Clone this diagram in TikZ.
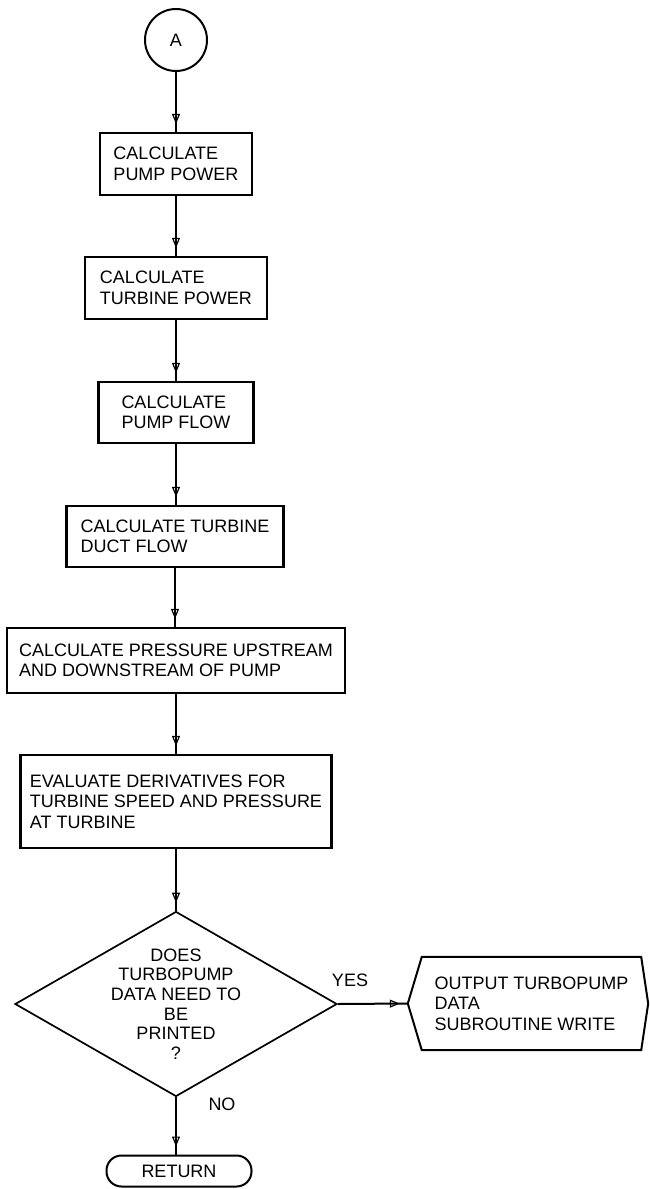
\documentclass[tikz,border=0pt]{standalone}
\usepackage{fontspec}
\setmainfont{Liberation Sans}
\usepackage{tikz}
\usetikzlibrary{shapes.geometric,arrows.meta,decorations.markings}

\begin{document}
\begin{tikzpicture}[x=1pt,y=-1pt,
    every node/.style={font=\fontsize{18}{20.5}\selectfont},
    procbox/.style={draw,line width=2.1pt,align=left,inner sep=0pt},
    decision/.style={draw,diamond,aspect=1.74,line width=1.7pt,
      minimum width=322pt,minimum height=185pt,inner sep=0pt},
    flow/.style={line width=2pt,postaction={decorate},
      decoration={markings,mark=at position -8pt with
        {\arrow[line width=1.2pt]{Triangle[open,length=10pt,width=8pt]}}}}]
      \useasboundingbox (0,0) rectangle (649,1189);
      \node[draw,circle,line width=2pt,minimum size=62pt,inner sep=0pt]
        (a) at (176,40) {A};
      \node[procbox,minimum width=152pt,minimum height=62pt]
        (pp) at (176,164) {CALCULATE\\PUMP POWER};
      \node[procbox,minimum width=182pt,minimum height=62pt]
        (tp) at (176,288) {CALCULATE\\TURBINE POWER};
      \node[procbox,minimum width=155pt,minimum height=61pt]
        (pf) at (176,412.5) {CALCULATE\\PUMP FLOW};
      \node[procbox,minimum width=217pt,minimum height=61pt]
        (df) at (175,536.5) {CALCULATE TURBINE\\DUCT FLOW};
      \node[procbox,minimum width=338pt,minimum height=65pt]
        (pr) at (176,660.5) {CALCULATE PRESSURE UPSTREAM\\AND DOWNSTREAM OF PUMP};
      \node[procbox,minimum width=311pt,minimum height=93pt]
        (ev) at (176,801.5) {EVALUATE DERIVATIVES FOR\\TURBINE SPEED AND PRESSURE\\AT TURBINE};
      \node[decision] (dec) at (176,1004) {};
      \node[align=center,font=\fontsize{18}{19.6}\selectfont]
        (dectext) at (dec) {DOES\\TURBOPUMP\\DATA NEED TO\\BE\\PRINTED\\?};
      \node[minimum width=219pt,minimum height=93pt,inner sep=0pt,align=left]
        (out) at (531.5,1003.5) {OUTPUT TURBOPUMP\\DATA\\SUBROUTINE WRITE};
      \coordinate (outtip) at ([xshift=-14pt]out.west);
      \draw[line width=2pt]
        (out.north west) -- (out.north east)
        -- ([xshift=7pt]out.east)
        -- (out.south east) -- (out.south west)
        -- (outtip) -- cycle;
      \node[draw,rounded corners=15pt,line width=2pt,minimum width=145pt,
        minimum height=31pt,inner sep=0pt] (ret) at (179,1171) {RETURN};
      \node (yes) at (350,980) {YES};
      \node (no) at (222,1104) {NO};
      % connectors
      \draw[flow] (a) -- (pp);
      \draw[flow] (pp) -- (tp);
      \draw[flow] (tp) -- (pf);
      \draw[flow] (pf.south) -- (pf.south |- df.north);
      \draw[flow] (df.south) -- (df.south |- pr.north);
      \draw[flow] (pr) -- (ev);
      \draw[flow] (ev) -- (dec);
      \draw[flow] (dec.east) -- (outtip);
      \draw[flow] (dec.south) -- (dec.south |- ret.north);
    \end{tikzpicture}
\end{document}
